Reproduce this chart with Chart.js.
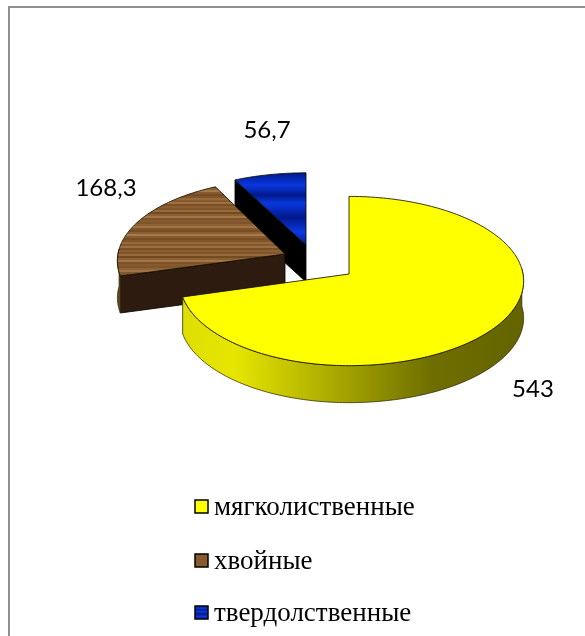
<!DOCTYPE html>
<html>
<head>
<meta charset="utf-8">
<style>
  html, body { margin: 0; padding: 0; background: #fff; overflow: hidden; }
  #wrap { position: relative; width: 585px; height: 636px; }
  #frame { position: absolute; left: 8px; top: 6px; right: 0; bottom: 0;
           border-left: 2px solid #8f8f8f; border-top: 2px solid #8f8f8f; }
  canvas { position: absolute; left: 0; top: 0; }
</style>
<script src="https://cdn.jsdelivr.net/npm/chart.js@4"></script>
</head>
<body>
<div id="wrap"><div id="frame"></div><canvas id="pieChart" width="585" height="636"></canvas></div>
<script>
const categories = ["мягколиственные", "хвойные", "твердолственные"];
const values = [543, 168.3, 56.7];
const valueLabels = ["543", "168,3", "56,7"];

// where the slices, number labels and legend rows sit (px)
const sliceShift = [[0, 0], [-64, -20], [-43, -29]];
const sliceScale = [[0.97, 1], [0.96, 0.96], [0.98, 0.93]]; // left side, height
const labelPos = [[533, 389], [106, 188], [267, 130]];
const legendRows = [507, 561, 613];

const SQUASH = 0.483; // tilt of the disc
const PERSP = 0.083; // near edge is drawn a bit bigger
const DEPTH = 37;

const ctx0 = document.getElementById("pieChart").getContext("2d");

// wood texture for the brown slice
function woodPattern(size) {
  const c = document.createElement("canvas");
  const stripes = ["#87592e", "#7f542b", "#906336", "#a17445", "#83572c", "#784e25", "#8c5f33",
    "#a67b4b", "#875a2f", "#754c24", "#80552a", "#96693b", "#85582d", "#9c6f40", "#7b5027", "#8b5e32",
    "#80552a", "#98693a", "#744a22", "#8d6034", "#a27546", "#7e532a"];
  c.width = 4;
  c.height = stripes.length * size;
  const g = c.getContext("2d");
  stripes.forEach(function (s, i) {
    g.fillStyle = s;
    g.fillRect(0, i * size, 4, size);
  });
  return ctx0.createPattern(c, "repeat");
}

// blue bands of the small slice
function blueBands(y0, y1) {
  const g = ctx0.createLinearGradient(0, y0, 0, y1);
  const dark = "#00188a", bright = "#0a38e0";
  [0, 0.17, 0.31, 0.42, 0.62, 0.82, 1].forEach(function (p, i) {
    g.addColorStop(p, i % 2 ? bright : dark);
  });
  return g;
}

const wood = woodPattern(2);

function project(arc, a, r, i, dy) {
  const u = r * Math.cos(a);
  const v = r * Math.sin(a);
  const f = 1 / (1 - PERSP * v);
  const su = u < 0 ? sliceScale[i][0] : 1;
  return {
    x: arc.x + sliceShift[i][0] + u * su * arc.outerRadius * f,
    y: arc.y + sliceShift[i][1] + v * sliceScale[i][1] * arc.outerRadius * SQUASH * f + dy,
  };
}

function rimPoints(arc, a0, a1, i, dy) {
  const pts = [];
  const n = Math.max(2, Math.ceil((a1 - a0) * 60));
  for (let k = 0; k <= n; k++) {
    pts.push(project(arc, a0 + ((a1 - a0) * k) / n, 1, i, dy));
  }
  return pts;
}

function fillPoly(ctx, pts, fill, line) {
  ctx.beginPath();
  pts.forEach(function (p, i) {
    if (i === 0) ctx.moveTo(p.x, p.y);
    else ctx.lineTo(p.x, p.y);
  });
  ctx.closePath();
  ctx.fillStyle = fill;
  ctx.fill();
  ctx.lineWidth = 1;
  ctx.strokeStyle = line;
  ctx.stroke();
}

const sideColors = ["#a6a600", "#2e1b0f", "#000000"];
const rimColors = ["#a6a600", "#6b4423", "#000000"];
const colors = ["#ffff00", wood, "#0a32c8"];

const pie3d = {
  id: "pie3d",
  // the arcs keep the library's angles, only the drawing is tilted
  beforeDatasetsDraw(chart) {
    const ctx = chart.ctx;
    const arcs = chart.getDatasetMeta(0).data;
    for (let i = arcs.length - 1; i >= 0; i--) {
      const arc = arcs[i];
      const a0 = arc.startAngle;
      const a1 = arc.endAngle;
      const apex = project(arc, 0, 0, i, 0);
      const apexLow = project(arc, 0, 0, i, DEPTH);

      // wall along the first radial edge
      if (-Math.cos(a0) > 0.01) {
        const corner = project(arc, a0, 1, i, 0);
        const cornerLow = project(arc, a0, 1, i, DEPTH);
        fillPoly(ctx, [corner, apex, apexLow, cornerLow], sideColors[i], "rgba(0,0,0,0.8)");
      }

      // outer wall, only the part that faces us
      const w0 = Math.max(a0, -0.06);
      const w1 = Math.min(a1, Math.PI + 0.06);
      if (w1 > w0) {
        const top = rimPoints(arc, w0, w1, i, 0);
        const low = rimPoints(arc, w0, w1, i, DEPTH).reverse();
        let fill = rimColors[i];
        if (i === 0) {
          fill = ctx.createLinearGradient(arc.x - arc.outerRadius, 0, arc.x + arc.outerRadius, 0);
          fill.addColorStop(0, "#dede00");
          fill.addColorStop(0.17, "#e6e600");
          fill.addColorStop(0.47, "#a6a600");
          fill.addColorStop(0.74, "#6e6e00");
          fill.addColorStop(1, "#646400");
        }
        fillPoly(ctx, top.concat(low), fill, "rgba(40,40,0,0.75)");
      }

      // top face
      const face = [apex].concat(rimPoints(arc, a0, a1, i, 0));
      let faceFill = arc.options.backgroundColor;
      if (i === 2) {
        const ys = face.map(function (p) { return p.y; });
        faceFill = blueBands(Math.min.apply(null, ys), Math.max.apply(null, ys));
      }
      fillPoly(ctx, face, faceFill, "rgba(20,15,0,0.85)");
    }
    return false;
  },
  afterDraw(chart) {
    const ctx = chart.ctx;
    ctx.save();
    ctx.font = "24px Lato, sans-serif";
    ctx.fillStyle = "#000";
    ctx.textAlign = "center";
    ctx.textBaseline = "middle";
    valueLabels.forEach(function (t, i) {
      ctx.fillText(t, labelPos[i][0], labelPos[i][1]);
    });

    // legend
    ctx.font = "27px 'Liberation Serif', serif";
    ctx.textAlign = "left";
    categories.forEach(function (c, i) {
      const y = legendRows[i];
      let fill = colors[i];
      if (i === 1) fill = "#875a2f";
      if (i === 2) fill = blueBands(y - 7, y + 6);
      ctx.fillStyle = fill;
      ctx.fillRect(195, y - 7, 13, 13);
      ctx.strokeStyle = "#000";
      ctx.lineWidth = 1.5;
      ctx.strokeRect(195, y - 7, 13, 13);
      ctx.fillStyle = "#000";
      ctx.fillText(c, 214, y + 1);
    });
    ctx.restore();
  },
};

new Chart(ctx0, {
  type: "pie",
  data: {
    labels: categories,
    datasets: [{ data: values, backgroundColor: colors, borderWidth: 0 }],
  },
  options: {
    responsive: false,
    animation: false,
    // leaves the pie centre at 349,274 with a radius of 174
    layout: { padding: { left: 175, right: 62, top: 100, bottom: 188 } },
    plugins: {
      tooltip: { enabled: false },
      legend: { display: false },
    },
  },
  plugins: [pie3d],
});
</script>
</body>
</html>
